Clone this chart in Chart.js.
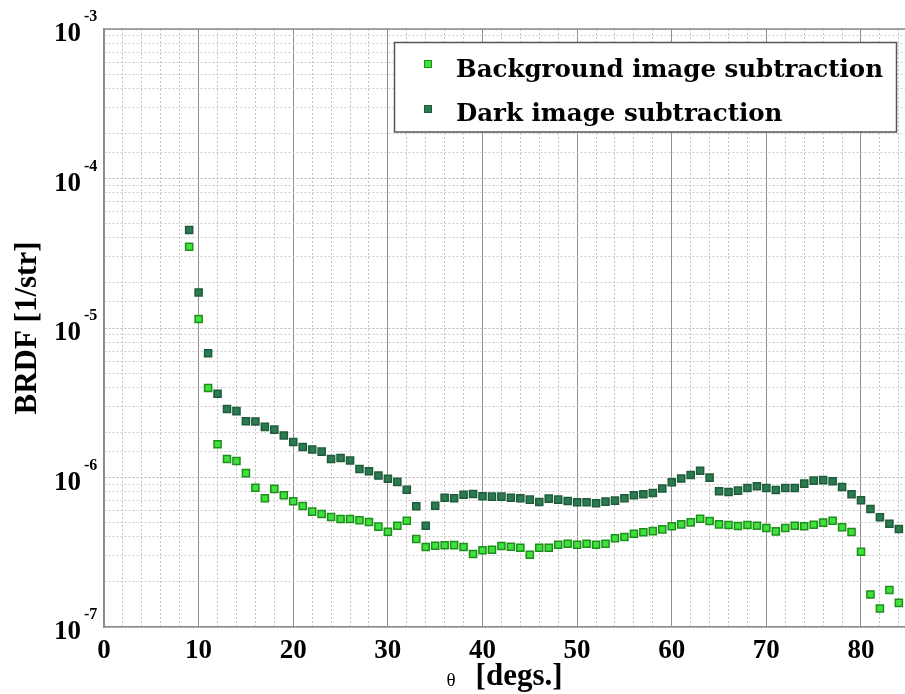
<!DOCTYPE html>
<html lang="en">
<head>
<meta charset="UTF-8">
<title>BRDF vs scattering angle</title>
<script src="https://cdn.jsdelivr.net/npm/chart.js@4.4.1/dist/chart.umd.min.js"></script>
<style>
  body { margin: 0; background: #fff; }
  canvas { display: block; }
</style>
</head>
<body>

<canvas id="brdf-chart" width="905" height="694"></canvas>

<script>
// scattering angle (degrees)
const theta = [9, 10, 11, 12, 13, 14, 15, 16, 17, 18, 19, 20, 21, 22, 23, 24, 25, 26, 27, 28,
               29, 30, 31, 32, 33, 34, 35, 36, 37, 38, 39, 40, 41, 42, 43, 44, 45, 46, 47, 48,
               49, 50, 51, 52, 53, 54, 55, 56, 57, 58, 59, 60, 61, 62, 63, 64, 65, 66, 67, 68,
               69, 70, 71, 72, 73, 74, 75, 76, 77, 78, 79, 80, 81, 82, 83, 84];

// BRDF [1/str], background image subtracted
const bgSub = [3.50e-5, 1.15e-5, 3.97e-6, 1.67e-6, 1.33e-6, 1.29e-6, 1.07e-6, 8.55e-7, 7.26e-7, 8.39e-7,
               7.61e-7, 6.94e-7, 6.45e-7, 5.91e-7, 5.70e-7, 5.44e-7, 5.28e-7, 5.28e-7, 5.18e-7, 5.04e-7,
               4.69e-7, 4.34e-7, 4.76e-7, 5.14e-7, 3.88e-7, 3.43e-7, 3.50e-7, 3.52e-7, 3.53e-7, 3.43e-7,
               3.08e-7, 3.26e-7, 3.29e-7, 3.48e-7, 3.44e-7, 3.39e-7, 3.04e-7, 3.39e-7, 3.39e-7, 3.55e-7,
               3.60e-7, 3.55e-7, 3.60e-7, 3.55e-7, 3.60e-7, 3.92e-7, 4.00e-7, 4.21e-7, 4.30e-7, 4.38e-7,
               4.50e-7, 4.72e-7, 4.86e-7, 5.01e-7, 5.30e-7, 5.12e-7, 4.86e-7, 4.81e-7, 4.74e-7, 4.81e-7,
               4.76e-7, 4.59e-7, 4.36e-7, 4.59e-7, 4.76e-7, 4.72e-7, 4.83e-7, 4.99e-7, 5.14e-7, 4.65e-7,
               4.32e-7, 3.19e-7, 1.65e-7, 1.33e-7, 1.77e-7, 1.45e-7];

// BRDF [1/str], dark image subtracted
const darkSub = [4.52e-5, 1.73e-5, 6.77e-6, 3.63e-6, 2.87e-6, 2.78e-6, 2.38e-6, 2.37e-6, 2.18e-6, 2.09e-6,
                 1.91e-6, 1.73e-6, 1.60e-6, 1.54e-6, 1.49e-6, 1.33e-6, 1.35e-6, 1.30e-6, 1.14e-6, 1.10e-6,
                 1.03e-6, 9.80e-7, 9.35e-7, 8.27e-7, 6.43e-7, 4.76e-7, 6.48e-7, 7.33e-7, 7.26e-7, 7.67e-7,
                 7.76e-7, 7.50e-7, 7.45e-7, 7.45e-7, 7.33e-7, 7.26e-7, 7.11e-7, 6.86e-7, 7.22e-7, 7.11e-7,
                 6.97e-7, 6.83e-7, 6.83e-7, 6.73e-7, 6.90e-7, 7.00e-7, 7.26e-7, 7.60e-7, 7.72e-7, 7.88e-7,
                 8.43e-7, 9.29e-7, 9.84e-7, 1.04e-6, 1.11e-6, 9.98e-7, 8.09e-7, 8.00e-7, 8.17e-7, 8.51e-7,
                 8.75e-7, 8.51e-7, 8.26e-7, 8.51e-7, 8.51e-7, 9.10e-7, 9.53e-7, 9.60e-7, 9.44e-7, 8.65e-7,
                 7.72e-7, 7.05e-7, 6.16e-7, 5.42e-7, 4.91e-7, 4.52e-7];

const seriesNames = ['Background image subtraction', 'Dark image subtraction'];
const decadeExps = [-7, -6, -5, -4, -3];

const SERIF = '"Liberation Serif", "Times New Roman", serif';
const LEGEND_FONT = '"DejaVu Serif", serif';

function isDecade(v) {
    const l = Math.log10(v);
    return Math.abs(l - Math.round(l)) < 1e-6;
}

// keep the plot area flush with the canvas edges
function fixX(height) {
    return s => {
        s.height = height;
        s.paddingLeft = 0;
        s.paddingRight = 0;
    };
}

// frame top edge, 10^n labels, x-axis title and boxed legend
const decor = {
    id: 'decor',
    afterDraw(chart) {
        const {ctx, chartArea: a, scales: {y}} = chart;
        const sets = chart.data.datasets;
        ctx.save();

        ctx.strokeStyle = '#8a8a8a';
        ctx.lineWidth = 1.5;
        ctx.beginPath();
        ctx.moveTo(a.left, a.top);
        ctx.lineTo(a.right, a.top);
        ctx.stroke();

        ctx.fillStyle = '#000';
        ctx.textBaseline = 'alphabetic';
        decadeExps.forEach(p => {
            const py = y.getPixelForValue(Math.pow(10, p));
            ctx.font = 'bold 27px ' + SERIF;
            ctx.textAlign = 'right';
            ctx.fillText('10', a.left - 23, py + 12);
            ctx.font = 'bold 16px ' + SERIF;
            ctx.textAlign = 'left';
            ctx.fillText(String(p), a.left - 20, py - 8);
        });

        // theta [degs.]
        ctx.font = 'bold 31px ' + SERIF;
        const unitW = ctx.measureText('[degs.]').width;
        ctx.font = '19px ' + SERIF;
        const symW = ctx.measureText('θ').width;
        const gap = 20;
        let tx = (a.left + a.right) / 2 - (symW + gap + unitW) / 2;
        ctx.textAlign = 'left';
        ctx.fillText('θ', tx, 686);
        ctx.font = 'bold 31px ' + SERIF;
        ctx.fillText('[degs.]', tx + symW + gap, 685);

        // legend box
        const box = {x: 394.5, y: 42.5, w: 502, h: 89.5};
        ctx.fillStyle = '#fff';
        ctx.fillRect(box.x, box.y, box.w, box.h);
        ctx.strokeStyle = '#555';
        ctx.lineWidth = 1.5;
        ctx.strokeRect(box.x, box.y, box.w, box.h);

        const rows = [{my: 64, by: 77}, {my: 109, by: 121}];
        sets.forEach((ds, i) => {
            const r = rows[i];
            ctx.fillStyle = ds.backgroundColor;
            ctx.strokeStyle = ds.borderColor;
            ctx.lineWidth = 1;
            ctx.fillRect(424.5, r.my - 3.5, 7, 7);
            ctx.strokeRect(424.5, r.my - 3.5, 7, 7);
            ctx.fillStyle = '#000';
            ctx.font = 'bold 24.5px ' + LEGEND_FONT;
            ctx.fillText(ds.label, 456, r.by);
        });

        ctx.restore();
    }
};

function points(values) {
    return theta.map((t, i) => ({x: t, y: values[i]}));
}

new Chart('brdf-chart', {
    type: 'scatter',
    data: {
        datasets: [{
            label: seriesNames[0],
            data: points(bgSub),
            pointStyle: 'rect',
            pointRadius: 5,
            pointHoverRadius: 5,
            backgroundColor: '#3ee23a',
            borderColor: '#1d8f1d',
            borderWidth: 1.5
        }, {
            label: seriesNames[1],
            data: points(darkSub),
            pointStyle: 'rect',
            pointRadius: 5,
            pointHoverRadius: 5,
            backgroundColor: '#2b7b51',
            borderColor: '#1f5c3c',
            borderWidth: 1.5
        }]
    },
    options: {
        responsive: false,
        animation: false,
        layout: {autoPadding: false, padding: {top: 29, left: 0, right: 0, bottom: 0}},
        plugins: {
            legend: {display: false},
            tooltip: {enabled: false}
        },
        scales: {
            xMinor: {
                type: 'linear',
                position: 'bottom',
                min: 0,
                max: 84.65,
                afterBuildTicks: s => { s.ticks = s.ticks.filter(t => t.value % 2 === 0); },
                afterFit: fixX(0),
                ticks: {display: false, stepSize: 2, includeBounds: false},
                grid: {
                    drawTicks: false,
                    color: c => (c.tick && c.tick.value % 10 === 0) ? 'rgba(0,0,0,0)' : '#c6c6c6',
                    lineWidth: 1
                },
                border: {display: false, dash: [2, 2]}
            },
            x: {
                type: 'linear',
                position: 'bottom',
                min: 0,
                max: 84.65,
                afterBuildTicks: s => { s.ticks = s.ticks.filter(t => t.value % 10 === 0); },
                afterFit: fixX(67),
                ticks: {
                    stepSize: 10,
                    includeBounds: false,
                    padding: 8,
                    color: '#000',
                    font: {family: SERIF, weight: 'bold', size: 27}
                },
                grid: {drawTicks: false, color: '#8f8f8f', lineWidth: 1},
                border: {color: '#8a8a8a', width: 1.5}
            },
            y: {
                type: 'logarithmic',
                min: 1e-7,
                max: 1e-3,
                afterFit: s => { s.width = 104; },
                ticks: {display: false},
                grid: {
                    drawTicks: false,
                    color: c => (c.tick && isDecade(c.tick.value)) ? '#b4b4b4' : '#cacaca',
                    lineWidth: 1
                },
                border: {color: '#8a8a8a', width: 1.5, dash: [2, 2]},
                title: {
                    display: true,
                    text: 'BRDF [1/str]',
                    color: '#000',
                    padding: {top: 9, bottom: 0},
                    font: {family: SERIF, weight: 'bold', size: 31}
                }
            }
        }
    },
    plugins: [decor]
});
</script>

</body>
</html>
